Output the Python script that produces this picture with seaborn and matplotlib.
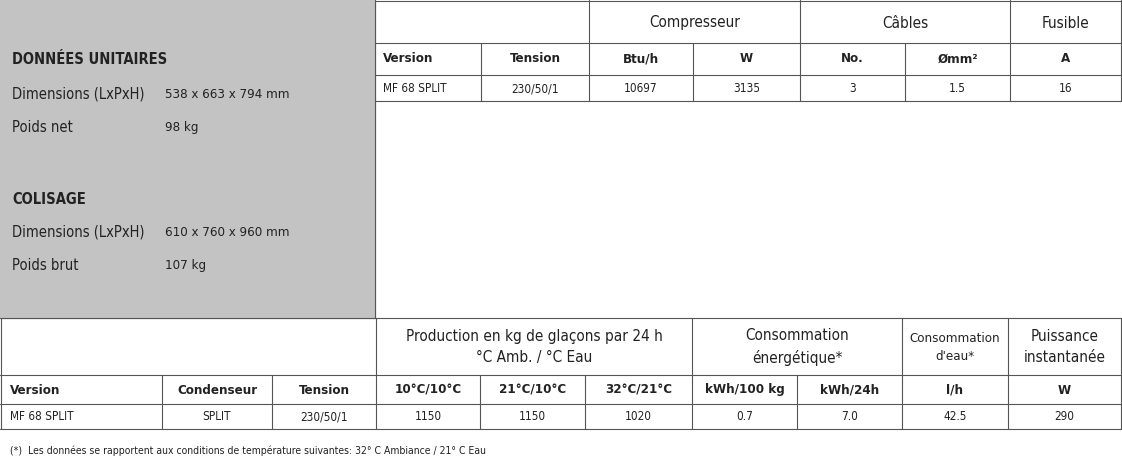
import matplotlib.pyplot as plt
import seaborn as sns

sns.set_theme(style="white")
plt.rcParams["font.family"] = ["DejaVu Sans"]
plt.rcParams["font.stretch"] = "condensed"

# unit data (left grey panel)
unit_labels = ["Dimensions (LxPxH)", "Poids net"]
unit_values = ["538 x 663 x 794 mm", "98 kg"]
pack_labels = ["Dimensions (LxPxH)", "Poids brut"]
pack_values = ["610 x 760 x 960 mm", "107 kg"]

# top table
top_groups = ["Compresseur", "Câbles", "Fusible"]
top_cols = ["Version", "Tension", "Btu/h", "W", "No.", "Ømm²", "A"]
top_row = ["MF 68 SPLIT", "230/50/1", "10697", "3135", "3", "1.5", "16"]

# bottom table
bot_groups = ["Production en kg de glaçons par 24 h\n°C Amb. / °C Eau",
              "Consommation\nénergétique*", "Consommation\nd'eau*", "Puissance\ninstantanée"]
bot_cols = ["Version", "Condenseur", "Tension", "10°C/10°C", "21°C/10°C", "32°C/21°C",
            "kWh/100 kg", "kWh/24h", "l/h", "W"]
bot_row = ["MF 68 SPLIT", "SPLIT", "230/50/1", "1150", "1150", "1020", "0.7", "7.0", "42.5", "290"]
footnote = "(*)  Les données se rapportent aux conditions de température suivantes: 32° C Ambiance / 21° C Eau"

W, H = 1122, 463
fig = plt.figure(figsize=(W / 100, H / 100), dpi=100)
ax = fig.add_axes([0, 0, 1, 1])
ax.set_xlim(0, W)
ax.set_ylim(H, 0)
ax.axis("off")
lc = "#555555"
tc = "#222222"


def hline(y, x0, x1):
    ax.plot([x0, x1], [y, y], color=lc, lw=0.8)


def vline(x, y0, y1):
    ax.plot([x, x], [y0, y1], color=lc, lw=0.8)


# grey panel
ax.add_patch(plt.Rectangle((0, 0), 375, 318, color="#c3c3c3", zorder=0))
ax.text(12, 60, "DONNÉES UNITAIRES", fontsize=10.5, weight="bold", va="center", color=tc)
for i, (l, v) in enumerate(zip(unit_labels, unit_values)):
    y = 94 + i * 33
    ax.text(12, y, l, fontsize=10.5, va="center", color=tc)
    ax.text(165, y, v, fontsize=9.5, va="center", color=tc)
ax.text(12, 199, "COLISAGE", fontsize=10.5, weight="bold", va="center", color=tc)
for i, (l, v) in enumerate(zip(pack_labels, pack_values)):
    y = 232 + i * 34
    ax.text(12, y, l, fontsize=10.5, va="center", color=tc)
    ax.text(165, y, v, fontsize=9.5, va="center", color=tc)

# top table
tx = [375, 481, 589, 693, 800, 905, 1010, 1121]
hline(1, 375, 1121)
hline(43, 375, 1121)
hline(75, 375, 1121)
hline(101, 375, 1121)
vline(375, 0, 318)
vline(1121, 0, 101)
for x in tx[1:-1]:
    vline(x, 43, 101)
for x in [589, 800, 1010]:
    vline(x, 0, 43)
for g, (a, b) in zip(top_groups, [(589, 800), (800, 1010), (1010, 1121)]):
    ax.text((a + b) / 2, 23, g, fontsize=11, ha="center", va="center", color=tc)
for i, (c, v) in enumerate(zip(top_cols, top_row)):
    ha = "left" if i == 0 else "center"
    x = tx[0] + 8 if i == 0 else (tx[i] + tx[i + 1]) / 2
    ax.text(x, 59, c, fontsize=9.5, weight="bold", ha=ha, va="center", color=tc)
    ax.text(x, 89, v, fontsize=8.5, ha=ha, va="center", color=tc)

# bottom table
bx = [0, 162, 272, 376, 480, 585, 692, 797, 902, 1008, 1121]
hline(318, 0, 1121)
hline(375, 0, 1121)
hline(404, 0, 1121)
hline(429, 0, 1121)
vline(1, 318, 429)
vline(1121, 318, 429)
for x in bx[1:-1]:
    vline(x, 375, 429)
for x in [376, 692, 902, 1008]:
    vline(x, 318, 375)
for g, (a, b) in zip(bot_groups, [(376, 692), (692, 902), (902, 1008), (1008, 1121)]):
    fs = 9.5 if "d'eau" in g else 11
    ax.text((a + b) / 2, 347, g, fontsize=fs, ha="center", va="center", color=tc, linespacing=1.5)
for i, (c, v) in enumerate(zip(bot_cols, bot_row)):
    ha = "left" if i == 0 else "center"
    x = 10 if i == 0 else (bx[i] + bx[i + 1]) / 2
    ax.text(x, 390, c, fontsize=9.5, weight="bold", ha=ha, va="center", color=tc)
    ax.text(x, 417, v, fontsize=8.5, ha=ha, va="center", color=tc)

ax.text(10, 451, footnote, fontsize=7.5, va="center", color=tc)

fig.savefig("out.png", dpi=100, facecolor="white")
